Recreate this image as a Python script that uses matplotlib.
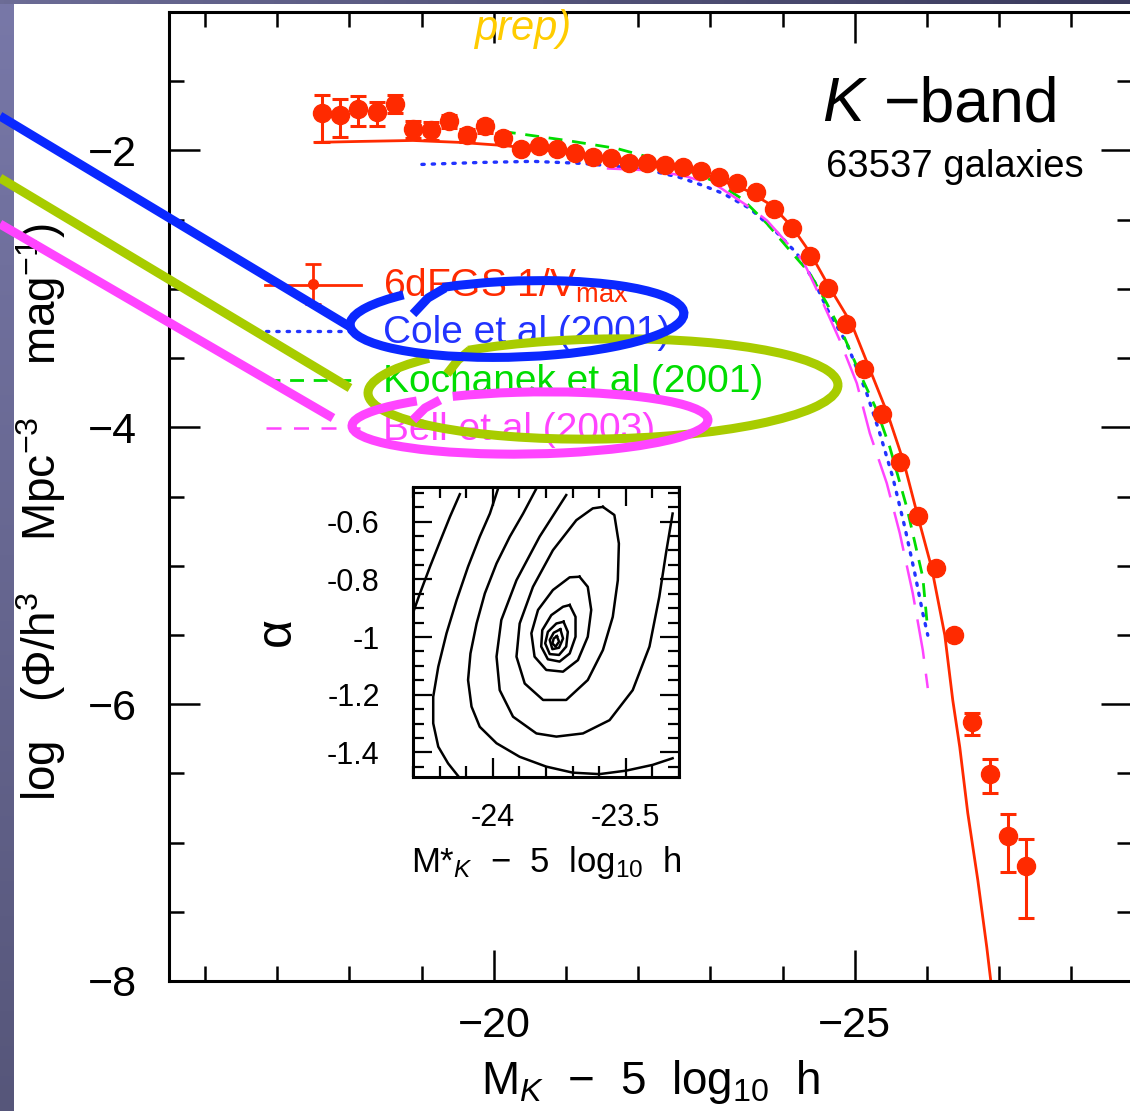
import matplotlib
matplotlib.use('Agg')
import matplotlib.pyplot as plt
import numpy as np
from matplotlib.patches import Arc
from matplotlib.ticker import MultipleLocator, FixedLocator, FixedFormatter

plt.rcParams['font.family'] = ['Liberation Sans', 'DejaVu Sans']
plt.rcParams['mathtext.fontset'] = 'custom'
plt.rcParams['mathtext.rm'] = 'Liberation Sans'
plt.rcParams['mathtext.it'] = 'Liberation Sans:italic'
plt.rcParams['mathtext.bf'] = 'Liberation Sans:bold'

# ---------------- data ----------------
# 6dFGS 1/Vmax points (M_K - 5 log h, log phi)
mag = [-17.625, -17.875, -18.125, -18.375, -18.625, -18.875, -19.125, -19.375,
       -19.625, -19.875, -20.125, -20.375, -20.625, -20.875, -21.125, -21.375,
       -21.625, -21.875, -22.125, -22.375, -22.625, -22.875, -23.125, -23.375,
       -23.625, -23.875, -24.125, -24.375, -24.625, -24.875, -25.125, -25.375,
       -25.625, -25.875, -26.125, -26.375, -26.625, -26.875, -27.125, -27.375]
logphi = [-1.733, -1.747, -1.704, -1.726, -1.661, -1.848, -1.856, -1.791,
          -1.892, -1.827, -1.913, -1.993, -1.971, -1.993, -2.022, -2.051,
          -2.058, -2.094, -2.094, -2.108, -2.123, -2.152, -2.195, -2.238,
          -2.303, -2.426, -2.563, -2.765, -2.996, -3.256, -3.581, -3.906,
          -4.253, -4.643, -5.018, -5.502, -6.130, -6.506, -6.953, -7.170]
err_hi = [0.137, 0.116, 0.094, 0.079, 0.065, 0.058, 0.058, 0.050,
          0.050, 0.043, 0.036, 0.020, 0.020, 0.020, 0.020, 0.020,
          0.020, 0.020, 0.020, 0.020, 0.020, 0.020, 0.020, 0.020,
          0.020, 0.020, 0.020, 0.020, 0.020, 0.020, 0.020, 0.020,
          0.020, 0.030, 0.030, 0.030, 0.065, 0.108, 0.159, 0.195]
err_lo = [0.209, 0.159, 0.123, 0.094, 0.072, 0.065, 0.072, 0.050,
          0.050, 0.050, 0.043, 0.020, 0.020, 0.020, 0.020, 0.020,
          0.020, 0.020, 0.020, 0.020, 0.020, 0.020, 0.020, 0.020,
          0.020, 0.020, 0.020, 0.020, 0.020, 0.020, 0.020, 0.020,
          0.020, 0.030, 0.030, 0.030, 0.094, 0.137, 0.260, 0.375]

# 6dFGS Schechter fit (red solid)
fit_mag = [-17.521, -18.144, -18.878, -19.529, -20.125, -20.776, -21.468, -22.161,
           -22.853, -23.504, -23.850, -24.127, -24.377, -24.626, -24.958, -25.208,
           -25.457, -25.679, -25.873, -26.066, -26.247, -26.357, -26.454, -26.565,
           -26.704, -26.828, -26.884]
fit_phi = [-1.942, -1.935, -1.928, -1.942, -1.964, -2.000, -2.043, -2.087,
           -2.159, -2.289, -2.397, -2.549, -2.736, -2.968, -3.256, -3.581,
           -3.906, -4.253, -4.643, -5.018, -5.502, -5.971, -6.310, -6.787,
           -7.271, -7.755, -8.000]

# Cole et al (2001)
cole_mag = [-19.003, -19.806, -20.540, -21.233, -21.704, -22.161, -22.576, -22.895,
            -23.172, -23.546, -23.892, -24.197, -24.446, -24.626, -24.889, -25.166,
            -25.346, -25.526, -25.693, -25.831, -25.942, -26.011]
cole_phi = [-2.101, -2.087, -2.079, -2.094, -2.116, -2.144, -2.195, -2.253,
            -2.310, -2.419, -2.578, -2.744, -2.953, -3.155, -3.394, -3.755,
            -4.043, -4.361, -4.722, -5.054, -5.343, -5.502]

# Kochanek et al (2001)
koch_mag = [-20.111, -20.319, -21.011, -21.704, -22.161, -22.618, -23.089, -23.449,
            -23.781, -24.100, -24.377, -24.612, -24.861, -25.069, -25.305, -25.485,
            -25.720, -25.942, -26.011]
koch_phi = [-1.863, -1.877, -1.928, -1.986, -2.051, -2.130, -2.231, -2.354,
            -2.527, -2.722, -2.888, -3.105, -3.357, -3.610, -3.877, -4.144,
            -4.578, -5.083, -5.466]

# Bell et al (2003)
bell_mag = [-21.565, -22.161, -22.618, -23.089, -23.546, -23.781, -24.030, -24.280,
            -24.543, -24.792, -25.028, -25.208, -25.443, -25.623, -25.803, -25.942,
            -26.011]
bell_phi = [-2.130, -2.144, -2.181, -2.253, -2.412, -2.505, -2.650, -2.794,
            -3.083, -3.372, -3.682, -4.043, -4.404, -4.765, -5.199, -5.610,
            -5.884]

# inset likelihood contours (M*, alpha)
cont_mstar = [
    [-24.124, -24.161, -24.199, -24.236, -24.274, -24.296],
    [-23.980, -24.011, -24.049, -24.093, -24.136, -24.174, -24.205, -24.224,
     -24.224, -24.205, -24.168, -24.130],
    [-23.836, -23.886, -23.936, -23.986, -24.030, -24.061, -24.084, -24.093,
     -24.080, -24.049, -23.986, -23.899, -23.799, -23.699, -23.599, -23.499,
     -23.399, -23.324],
    [-23.724, -23.824, -23.911, -23.968, -23.986, -23.974, -23.924, -23.836,
     -23.761, -23.661, -23.561, -23.474, -23.411, -23.374, -23.349, -23.324],
    [-23.586, -23.543, -23.526, -23.530, -23.549, -23.586, -23.643, -23.724,
     -23.811, -23.880, -23.911, -23.899, -23.849, -23.774, -23.686, -23.624, -23.586],
    [-23.674, -23.643, -23.630, -23.643, -23.680, -23.736, -23.799, -23.843,
     -23.855, -23.830, -23.774, -23.711, -23.674],
    [-23.711, -23.689, -23.689, -23.711, -23.749, -23.793, -23.818, -23.814,
     -23.780, -23.736, -23.711],
    [-23.734, -23.718, -23.724, -23.751, -23.786, -23.803, -23.793, -23.761, -23.734],
    [-23.746, -23.736, -23.751, -23.776, -23.786, -23.771, -23.746],
    [-23.759, -23.751, -23.764, -23.776, -23.771, -23.759],
]
cont_alpha = [
    [-0.505, -0.583, -0.670, -0.756, -0.849, -0.906],
    [-0.485, -0.572, -0.652, -0.756, -0.872, -0.987, -1.103, -1.207,
     -1.299, -1.380, -1.438, -1.482],
    [-0.485, -0.572, -0.652, -0.745, -0.849, -0.953, -1.057, -1.149,
     -1.241, -1.311, -1.368, -1.415, -1.449, -1.470, -1.475, -1.463,
     -1.443, -1.420],
    [-0.508, -0.652, -0.803, -0.941, -1.068, -1.184, -1.276, -1.334,
     -1.345, -1.334, -1.288, -1.184, -1.033, -0.860, -0.710, -0.572],
    [-0.549, -0.577, -0.676, -0.803, -0.930, -1.045, -1.149, -1.218,
     -1.218, -1.161, -1.068, -0.953, -0.826, -0.699, -0.595, -0.554, -0.549],
    [-0.791, -0.826, -0.906, -0.999, -1.080, -1.120, -1.114, -1.068,
     -0.987, -0.906, -0.837, -0.793, -0.791],
    [-0.889, -0.930, -0.999, -1.057, -1.085, -1.077, -1.033, -0.976,
     -0.924, -0.895, -0.889],
    [-0.947, -0.982, -1.033, -1.062, -1.059, -1.022, -0.982, -0.953, -0.947],
    [-0.973, -1.005, -1.037, -1.042, -1.010, -0.985, -0.973],
    [-0.997, -1.016, -1.033, -1.022, -1.005, -0.997],
]

x_major = [-20, -25]
x_major_labels = ['\u221220', '\u221225']
y_major = [-2, -4, -6, -8]
y_major_labels = ['\u22122', '\u22124', '\u22126', '\u22128']
inset_x_major = [-24, -23.5]
inset_x_labels = ['-24', '-23.5']
inset_y_major = [-0.6, -0.8, -1.0, -1.2, -1.4]
inset_y_labels = ['-0.6', '-0.8', '-1', '-1.2', '-1.4']

legend_labels = ['6dFGS 1/V$_{\\rm max}$', 'Cole et al (2001)',
                 'Kochanek et al (2001)', 'Bell et al (2003)']

# ---------------- style ----------------
RED = '#ff2a00'
BLUE = '#2233ff'
GREEN = '#00dd00'
MAG = '#ff44ff'
HL_BLUE = '#0a28ff'
HL_GREEN = '#a8cc00'
HL_MAG = '#ff44ff'

W, H = 1130, 1111
fig = plt.figure(figsize=(W / 100, H / 100), dpi=100)
fig.patch.set_facecolor('white')

def fx(px):
    return px / W

def fy(py):
    return 1 - py / H

# background slide strips
bg = fig.add_axes([0, 0, 1, 1], zorder=-10)
bg.axis('off')
vgrad = np.linspace(0, 1, 256)[:, None, None]
top_c = np.array([120, 120, 168]) / 255
bot_c = np.array([86, 86, 122]) / 255
left_strip = top_c * (1 - vgrad) + bot_c * vgrad
bg.imshow(left_strip, extent=[0, 14, H, 0], aspect='auto', origin='upper')
hgrad = np.linspace(0, 1, 256)[None, :, None]
l_c = np.array([108, 108, 150]) / 255
r_c = np.array([58, 58, 92]) / 255
top_strip = l_c * (1 - hgrad) + r_c * hgrad
bg.imshow(top_strip, extent=[0, W, 4, 0], aspect='auto', origin='upper')
bg.set_xlim(0, W)
bg.set_ylim(H, 0)

# ---------------- main axes ----------------
ax = fig.add_axes([fx(169), fy(981), 963 / W, 969 / H])
ax.set_facecolor('white')
ax.set_xlim(-15.5, -28.84)
ax.set_ylim(-8, -1)

ax.plot(fit_mag, fit_phi, color=RED, lw=2.0, zorder=2)
ax.plot(cole_mag, cole_phi, color=BLUE, lw=2.4, ls=(0, (0.7, 2.4)),
        dash_capstyle='round', zorder=2)
ax.plot(koch_mag, koch_phi, color=GREEN, lw=2.0, ls=(0, (5.0, 3.5)), zorder=2)
ax.plot(bell_mag, bell_phi, color=MAG, lw=1.8, ls=(0, (16, 6)), zorder=2)
ax.errorbar(mag, logphi, yerr=[err_lo, err_hi], fmt='o', color=RED, ms=13,
            elinewidth=2.2, capsize=6, capthick=2.2, zorder=3)

ax.xaxis.set_major_locator(FixedLocator(x_major))
ax.xaxis.set_major_formatter(FixedFormatter(x_major_labels))
ax.xaxis.set_minor_locator(MultipleLocator(1))
ax.yaxis.set_major_locator(FixedLocator(y_major))
ax.yaxis.set_major_formatter(FixedFormatter(y_major_labels))
ax.yaxis.set_minor_locator(MultipleLocator(0.5))
ax.tick_params(which='both', direction='in', top=True, right=True,
               width=1.8, color='black')
ax.tick_params(which='major', length=22)
ax.tick_params(which='minor', length=11)
ax.tick_params(axis='x', which='major', labelsize=31, pad=18)
ax.tick_params(axis='y', which='major', labelsize=31, pad=23)
for s in ax.spines.values():
    s.set_linewidth(2.2)

ax.set_xlabel('M$_K$  \u2212  5  log$_{10}$  h', fontsize=33)
ax.xaxis.set_label_coords((650 - 169) / 963, -(1058 - 981) / 969)
ax.set_ylabel('log   (\u03a6/h$^3$    Mpc$^{-3}$    mag$^{-1}$)', fontsize=33)
ax.yaxis.set_label_coords(-(169 - 68) / 963, (981 - 512) / 969)

# ---------------- inset ----------------
ins = fig.add_axes([fx(413), fy(777), 266 / W, 290 / H], zorder=5)
ins.set_xlim(-24.3, -23.3)
ins.set_ylim(-1.485, -0.48)
for cm, ca in zip(cont_mstar, cont_alpha):
    ins.plot(cm, ca, color='black', lw=1.8)
ins.xaxis.set_major_locator(FixedLocator(inset_x_major))
ins.xaxis.set_major_formatter(FixedFormatter(inset_x_labels))
ins.xaxis.set_minor_locator(MultipleLocator(0.1))
ins.yaxis.set_major_locator(FixedLocator(inset_y_major))
ins.yaxis.set_major_formatter(FixedFormatter(inset_y_labels))
ins.yaxis.set_minor_locator(MultipleLocator(0.05))
ins.tick_params(which='both', direction='in', top=True, right=True,
                width=1.6, color='black')
ins.tick_params(which='major', length=14)
ins.tick_params(which='minor', length=8)
ins.tick_params(axis='x', which='major', labelsize=22, pad=19)
ins.tick_params(axis='y', which='major', labelsize=22, pad=24)
for s in ins.spines.values():
    s.set_linewidth(2.2)
ins.set_xlabel('M*$_K$  \u2212  5  log$_{10}$  h', fontsize=25)
ins.xaxis.set_label_coords(0.5, -(844 - 777) / 290)
ins.set_ylabel('\u03b1', fontsize=36)
ins.yaxis.set_label_coords(-(413 - 300) / 266, 0.5)

# ---------------- overlay (pixel coords) ----------------
ov = fig.add_axes([0, 0, 1, 1], zorder=10)
ov.set_xlim(0, W)
ov.set_ylim(H, 0)
ov.axis('off')
ov.patch.set_alpha(0)

# titles
ov.text(822, 121, 'K', fontsize=45, style='italic', ha='left', va='baseline')
ov.text(884, 121, '\u2212band', fontsize=45, ha='left', va='baseline')
ov.text(826, 177, '63537 galaxies', fontsize=27.5, ha='left', va='baseline')

# legend samples
ov.plot([265, 361], [285, 285], color=RED, lw=2.0, zorder=1)
ov.errorbar([313], [284], yerr=[[20], [20]], fmt='o', color=RED, ms=7,
            elinewidth=2.0, capsize=6, capthick=2.0, zorder=1)
ov.plot([266, 352], [331, 331], color=BLUE, lw=2.4, ls=(0, (0.7, 2.4)),
        dash_capstyle='round', zorder=1)
ov.plot([266, 360], [380, 380], color=GREEN, lw=2.0, ls=(0, (5.0, 3.5)), zorder=1)
ov.plot([266, 360], [428, 428], color=MAG, lw=1.8, ls=(0, (6, 5)), zorder=1)
ov.text(383, 297, legend_labels[0], color=RED, fontsize=28, ha='left', va='baseline', zorder=1)
ov.text(383, 343, legend_labels[1], color=BLUE, fontsize=28, ha='left', va='baseline', zorder=1)
ov.text(383, 392, legend_labels[2], color=GREEN, fontsize=28, ha='left', va='baseline', zorder=1)
ov.text(383, 440, legend_labels[3], color=MAG, fontsize=28, ha='left', va='baseline', zorder=1)

# slide highlight strokes
HLW = 6.5
ov.plot([0, 352], [116, 328], color=HL_BLUE, lw=HLW, solid_capstyle='butt', zorder=6)
ov.plot([0, 350], [178, 388], color=HL_GREEN, lw=HLW, solid_capstyle='butt', zorder=6)
ov.plot([0, 333], [224, 418], color=HL_MAG, lw=HLW, solid_capstyle='butt', zorder=6)

ov.add_patch(Arc((603, 389), 470, 100, angle=-1, theta1=197, theta2=551,
                 color=HL_GREEN, lw=HLW, zorder=6))
ov.plot([447, 458, 470], [374, 360, 350], color=HL_GREEN, lw=HLW,
        solid_capstyle='butt', zorder=6)
ov.add_patch(Arc((530, 423), 356, 62, angle=-1, theta1=200, theta2=552,
                 color=HL_MAG, lw=HLW, zorder=7))
ov.plot([413, 425, 440], [420, 408, 400], color=HL_MAG, lw=HLW,
        solid_capstyle='butt', zorder=7)
ov.add_patch(Arc((517, 319), 334, 76, angle=-2, theta1=205, theta2=554,
                 color=HL_BLUE, lw=HLW, zorder=6.5))
ov.plot([413, 428, 445], [314, 298, 288], color=HL_BLUE, lw=HLW,
        solid_capstyle='butt', zorder=6.5)

ov.text(474, 40, 'prep)', color='#ffcc00', fontsize=30, style='italic',
        ha='left', va='baseline', zorder=8)

fig.savefig('out.png', dpi=100)
